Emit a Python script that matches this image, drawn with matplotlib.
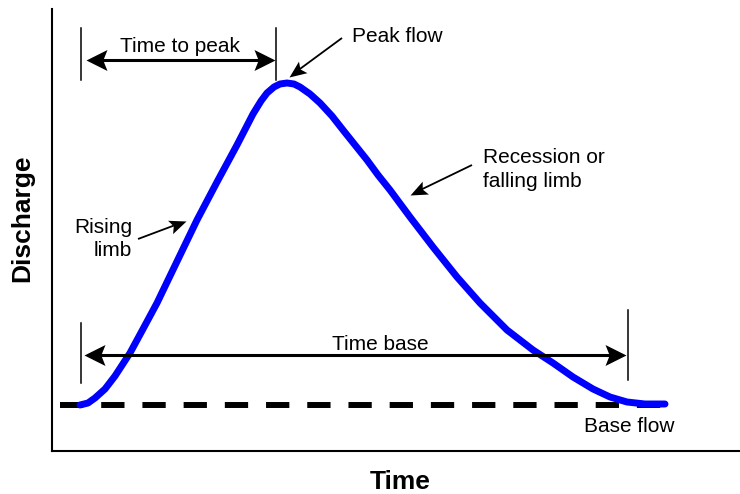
import matplotlib
matplotlib.use("Agg")
import matplotlib.pyplot as plt
import numpy as np
from matplotlib.markers import MarkerStyle
from matplotlib.path import Path
from matplotlib.transforms import Affine2D

plt.rcParams["font.family"] = ["Liberation Sans", "DejaVu Sans"]

# ---------- hydrograph (plot units) ----------
time = [80, 88, 95, 105, 115, 130, 143, 157, 170, 183, 197, 217, 237, 253,
        261, 267, 274, 280, 287, 294, 300, 310, 320, 332, 343, 355, 367, 378,
        390, 410, 433, 457, 480, 507, 533, 553, 573, 593, 610, 627, 645, 665]
discharge = [46, 48, 53, 62, 75, 98, 122, 148, 175, 202, 231, 269, 306, 337,
             350, 358, 364, 367, 368, 367, 364, 357, 348, 335, 321, 306, 291, 276,
             261, 234, 204, 174, 148, 121, 101, 88, 74, 62, 54, 49, 47, 47]
base_flow = 46
base_span = [60, 670]

t_start, t_peak, t_end = 81, 276, 628

fig = plt.figure(figsize=(7.4, 4.94), dpi=100)
ax = fig.add_axes([52 / 740, 43 / 494, 1 - 52 / 740, 442 / 494])
ax.set_xlim(52, 740)
ax.set_ylim(0, 442)
ax.set_xticks([])
ax.set_yticks([])
for s in ["top", "right"]:
    ax.spines[s].set_visible(False)
for s in ["left", "bottom"]:
    ax.spines[s].set_linewidth(1.5)


def head(x, y, ang, length, half):
    # notched arrow head, tip at (x, y); length in pixels
    p = Path([(0, 0), (-1, half), (-0.8, 0), (-1, -half), (0, 0)],
             [Path.MOVETO, Path.LINETO, Path.LINETO, Path.LINETO, Path.CLOSEPOLY])
    m = MarkerStyle(p, transform=Affine2D().rotate_deg(ang))
    ax.plot([x], [y], marker=m, markersize=2 * length * 0.72, color="black",
            markeredgewidth=0, zorder=4)


def arrow(x0, y0, x1, y1, length, half, lw, both=False):
    ang = np.degrees(np.arctan2(y1 - y0, x1 - x0))
    d = np.hypot(x1 - x0, y1 - y0)
    ux, uy = (x1 - x0) / d, (y1 - y0) / d
    cut = length * 0.6
    a = (x0 + ux * cut, y0 + uy * cut) if both else (x0, y0)
    b = (x1 - ux * cut, y1 - uy * cut)
    ax.plot([a[0], b[0]], [a[1], b[1]], color="black", lw=lw,
            solid_capstyle="butt", zorder=4)
    head(x1, y1, ang, length, half)
    if both:
        head(x0, y0, ang + 180, length, half)


# base flow + hydrograph
ax.plot(base_span, [base_flow, base_flow], color="black", lw=4.3,
        linestyle=(0, (3.9, 3.0)), solid_capstyle="butt")
ax.plot(time, discharge, color="#0000FF", lw=5, solid_joinstyle="round",
        solid_capstyle="round", zorder=3)

fs = 15

# time to peak
for t in (t_start, t_peak):
    ax.plot([t, t], [371, 423], color="black", lw=1.1)
arrow(t_start + 5, 391, t_peak - 1, 391, 21, 0.5, 2.2, both=True)
ax.text((t_start + t_peak) / 2 + 1, 399, "Time to peak", fontsize=fs,
        ha="center", va="baseline")

# time base
ax.plot([t_start, t_start], [68, 128], color="black", lw=1.1)
ax.plot([t_end, t_end], [71, 141], color="black", lw=1.1)
arrow(t_start + 3, 96, t_end - 2, 96, 21, 0.5, 2.2, both=True)
ax.text(380, 101, "Time base", fontsize=fs, ha="center", va="baseline")

# pointers
arrow(342, 413, 289, 374, 17, 0.42, 1.3)
ax.text(352, 409, "Peak flow", fontsize=fs, ha="left", va="baseline")
arrow(472, 286, 410, 256, 17, 0.42, 1.3)
ax.text(483, 288, "Recession or", fontsize=fs, ha="left", va="baseline")
ax.text(483, 264, "falling limb", fontsize=fs, ha="left", va="baseline")
arrow(138, 212, 186, 230, 17, 0.42, 1.3)
ax.text(132, 218, "Rising", fontsize=fs, ha="right", va="baseline")
ax.text(132, 195, "limb", fontsize=fs, ha="right", va="baseline")
ax.text(584, 19, "Base flow", fontsize=fs, ha="left", va="baseline")

fig.text(22 / 740, 1 - 218 / 494, "Discharge", rotation=90, fontsize=19,
         fontweight="bold", ha="center", va="center")
fig.text(400 / 740, 1 - 482 / 494, "Time", fontsize=19, fontweight="bold",
         ha="center", va="center")

fig.savefig("out.png", dpi=100)
